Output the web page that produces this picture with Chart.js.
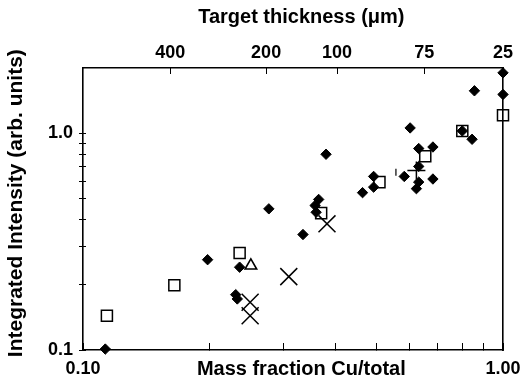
<!DOCTYPE html>
<html>
<head>
<meta charset="utf-8">
<script src="https://cdn.jsdelivr.net/npm/chart.js@4/dist/chart.umd.min.js"></script>
<style>
  html, body { margin: 0; padding: 0; background: #fff; }
  #wrap { width: 522px; height: 385px; }
</style>
</head>
<body>
<div id="wrap"><canvas id="c" width="522" height="385"></canvas></div>
<script>
// ---- data ----
const diamondX = [0.113, 0.198, 0.236, 0.231, 0.233, 0.277, 0.334, 0.364, 0.357, 0.359, 0.379, 0.463, 0.492, 0.492, 0.601, 0.630, 0.681, 0.630, 0.582, 0.681, 0.630, 0.622, 0.800, 0.844, 0.855, 1.0, 1.0];
const diamondY = [0.101, 0.261, 0.241, 0.180, 0.172, 0.448, 0.341, 0.495, 0.464, 0.432, 0.800, 0.532, 0.632, 0.564, 1.058, 0.850, 0.864, 0.703, 0.632, 0.615, 0.595, 0.555, 1.025, 0.938, 1.570, 1.510, 1.900];

const squareX = [0.114, 0.165, 0.236, 0.369, 0.508, 0.653, 0.800, 1.0];
const squareY = [0.144, 0.199, 0.280, 0.428, 0.595, 0.783, 1.025, 1.210];

const triangleX = [0.251];
const triangleY = [0.245];

const crossX = [0.250, 0.250, 0.309, 0.381];
const crossY = [0.166, 0.144, 0.218, 0.382];

const plusX = [0.622];
const plusY = [0.674];

const barX = [0.556];
const barY = [0.660];

// axis ticks
const xTickValues = [0.1, 0.2, 0.3, 0.4, 0.5, 0.6, 0.7, 0.8, 0.9, 1.0];
const xTickLabels = {0.1: '0.10', 1: '1.00'};
const yTickValues = [0.1, 0.2, 0.3, 0.4, 0.5, 0.6, 0.7, 0.8, 0.9, 1.0];
const yTickLabels = {0.1: '0.1', 1: '1.0'};
const topTickPositions = [0.1614, 0.2729, 0.4025, 0.6495, 1.0];
const topTickLabels = ['400', '200', '100', '75', '25'];

// ---- chart ----
const pts = (xs, ys) => xs.map((x, i) => ({x: x, y: ys[i]}));
const FONT = "'Liberation Sans', Arial, sans-serif";
const tickFont = {family: FONT, size: 18, weight: 'bold'};
const titleFont = {family: FONT, size: 20, weight: 'bold'};
const yTitleFont = {family: FONT, size: 21, weight: 'bold'};

function keyOf(v) { return Math.round(v * 1000) / 1000; }
function noSidePad(s) { s.paddingLeft = 0; s.paddingRight = 0; }

new Chart(document.getElementById('c'), {
  type: 'scatter',
  data: {
    datasets: [
      { label: 'diamond', data: pts(diamondX, diamondY), pointStyle: 'rectRot', pointRadius: 5.2,
        backgroundColor: '#000', borderColor: '#000', borderWidth: 1, clip: false, order: 3 },
      { label: 'square', data: pts(squareX, squareY), pointStyle: 'rect', pointRadius: 7.8,
        backgroundColor: 'rgba(0,0,0,0)', borderColor: '#000', borderWidth: 1.5, clip: false, order: 1 },
      { label: 'triangle', data: pts(triangleX, triangleY), pointStyle: 'triangle', pointRadius: 6.7,
        backgroundColor: 'rgba(0,0,0,0)', borderColor: '#000', borderWidth: 1.6, clip: false, order: 2 },
      { label: 'cross', data: pts(crossX, crossY), pointStyle: 'crossRot', pointRadius: 12,
        backgroundColor: 'rgba(0,0,0,0)', borderColor: '#000', borderWidth: 1.5, clip: false, order: 2 },
      { label: 'plus', data: pts(plusX, plusY), pointStyle: 'cross', pointRadius: 9,
        backgroundColor: 'rgba(0,0,0,0)', borderColor: '#000', borderWidth: 1.5, clip: false, order: 2 },
      { label: 'bar', data: pts(barX, barY), pointStyle: 'line', rotation: 90, pointRadius: 3.5,
        backgroundColor: '#000', borderColor: '#000', borderWidth: 1.2, clip: false, order: 2 }
    ]
  },
  options: {
    responsive: false,
    animation: false,
    devicePixelRatio: 1,
    layout: { padding: { left: 0, right: 19, top: 0, bottom: 0 } },
    plugins: { legend: { display: false }, tooltip: { enabled: false } },
    scales: {
      x: {
        type: 'logarithmic', position: 'bottom', min: 0.1, max: 1.0,
        afterBuildTicks: s => { s.ticks = xTickValues.map(v => ({value: v})); },
        afterFit: s => { s.height = 35; noSidePad(s); },
        ticks: {
          autoSkip: false, maxRotation: 0, minRotation: 0, padding: 15,
          color: '#000', font: tickFont,
          callback: v => xTickLabels[keyOf(v)] || ''
        },
        grid: { drawOnChartArea: false, drawTicks: true, tickLength: -7, color: '#000', lineWidth: 1 },
        border: { display: true, color: '#000', width: 1.6 },
        title: { display: true, text: '   Mass fraction Cu/total', color: '#000', font: titleFont,
                 padding: { top: 0, bottom: 4 } }
      },
      x2: {
        type: 'logarithmic', position: 'top', min: 0.1, max: 1.0,
        afterBuildTicks: s => { s.ticks = topTickPositions.map(v => ({value: v})); },
        afterFit: s => { s.height = 68; noSidePad(s); },
        ticks: {
          autoSkip: false, maxRotation: 0, minRotation: 0, padding: 10,
          color: '#000', font: tickFont,
          callback: (v, i) => topTickLabels[i]
        },
        grid: { drawOnChartArea: false, drawTicks: true, tickLength: -6, color: '#000', lineWidth: 1 },
        border: { display: true, color: '#000', width: 1.6 },
        title: { display: true, text: '   Target thickness (\u03bcm)', color: '#000', font: titleFont,
                 padding: { top: 5, bottom: 0 } }
      },
      y: {
        type: 'logarithmic', position: 'left', min: 0.1, max: 2.0, weight: 2,
        afterBuildTicks: s => { s.ticks = yTickValues.map(v => ({value: v})); },
        afterFit: s => { s.width = 83; },
        ticks: {
          autoSkip: false, padding: 6, color: '#000', font: tickFont,
          callback: v => yTickLabels[keyOf(v)] || ''
        },
        grid: { drawOnChartArea: false, drawTicks: true, tickLength: 4, color: '#000', lineWidth: 1 },
        border: { display: true, color: '#000', width: 1.6 },
        title: { display: true, text: '  Integrated Intensity (arb. units)', color: '#000', font: yTitleFont,
                 padding: { top: 4, bottom: 0 } }
      },
      yIn: {
        type: 'logarithmic', position: 'left', min: 0.1, max: 2.0, weight: 0,
        afterBuildTicks: s => { s.ticks = yTickValues.map(v => ({value: v})); },
        afterFit: s => { s.width = 0; },
        ticks: { display: false },
        grid: { drawOnChartArea: false, drawTicks: true, tickLength: -3, color: '#000', lineWidth: 1 },
        border: { display: false }
      },
      y2: {
        type: 'logarithmic', position: 'right', min: 0.1, max: 2.0,
        afterFit: s => { s.width = 0; },
        ticks: { display: false },
        grid: { drawOnChartArea: false, drawTicks: false },
        border: { display: true, color: '#000', width: 1.6 }
      }
    }
  }
});
</script>
</body>
</html>
